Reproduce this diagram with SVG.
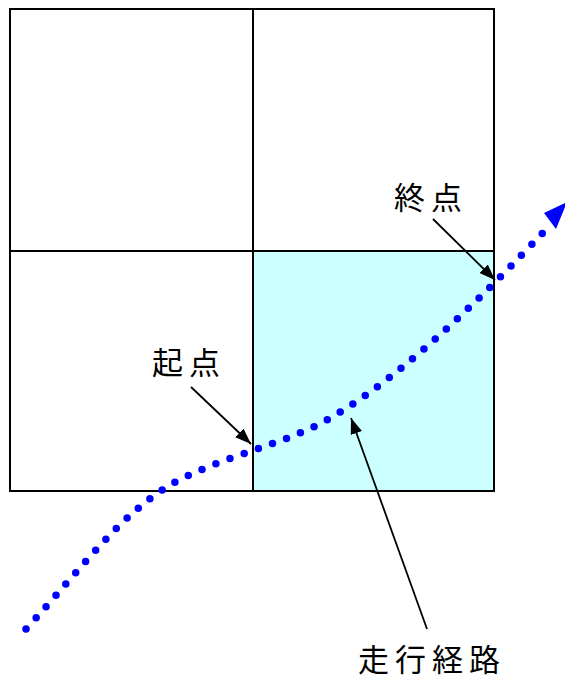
<svg xmlns="http://www.w3.org/2000/svg" width="565" height="680" viewBox="0 0 565 680">
<style>
.cell{fill:#fff;stroke:#000;stroke-width:2}
.lbl{font-family:"Noto Sans CJK JP","Noto Sans CJK SC",sans-serif;font-size:31px;letter-spacing:6px;fill:#000}
.lead{stroke:#000;stroke-width:1.8;fill:none;marker-end:url(#ah)}
.route{fill:none;stroke:#0000ff;stroke-width:7.5;stroke-linecap:round;stroke-dasharray:0 15}
</style>
<defs>
<marker id="ah" viewBox="0 0 16 12" refX="16" refY="6" markerWidth="16" markerHeight="12" markerUnits="userSpaceOnUse" orient="auto">
<path d="M0,0 L16,6 L0,12 Z" fill="#000"/>
</marker>
</defs>
<g id="grid">
<rect id="cell-tl" class="cell" x="10" y="9" width="243" height="242"/>
<rect id="cell-tr" class="cell" x="253" y="9" width="241" height="242"/>
<rect id="cell-bl" class="cell" x="10" y="251" width="243" height="240"/>
<rect id="cell-br" class="cell" x="253" y="251" width="241" height="240" style="fill:#ccffff"/>
</g>
<g id="route">
<path class="route" d="M26,629 C80,570 120,515 170,485 C210,462 260,450 300,433 C380,400 480,300 552,223"/>
<polygon points="567,202 544,213 556,229" fill="#0000ff"/>
</g>
<g id="connectors">
<line class="lead" x1="433" y1="219" x2="495" y2="280"/>
<line class="lead" x1="191" y1="387" x2="251" y2="444"/>
<line class="lead" x1="427" y1="629" x2="351" y2="418"/>
</g>
<g id="label-end"><text class="lbl" x="394" y="209">終点</text></g>
<g id="label-start"><text class="lbl" x="152" y="374">起点</text></g>
<g id="label-route"><text class="lbl" x="358" y="671">走行経路</text></g>
</svg>
